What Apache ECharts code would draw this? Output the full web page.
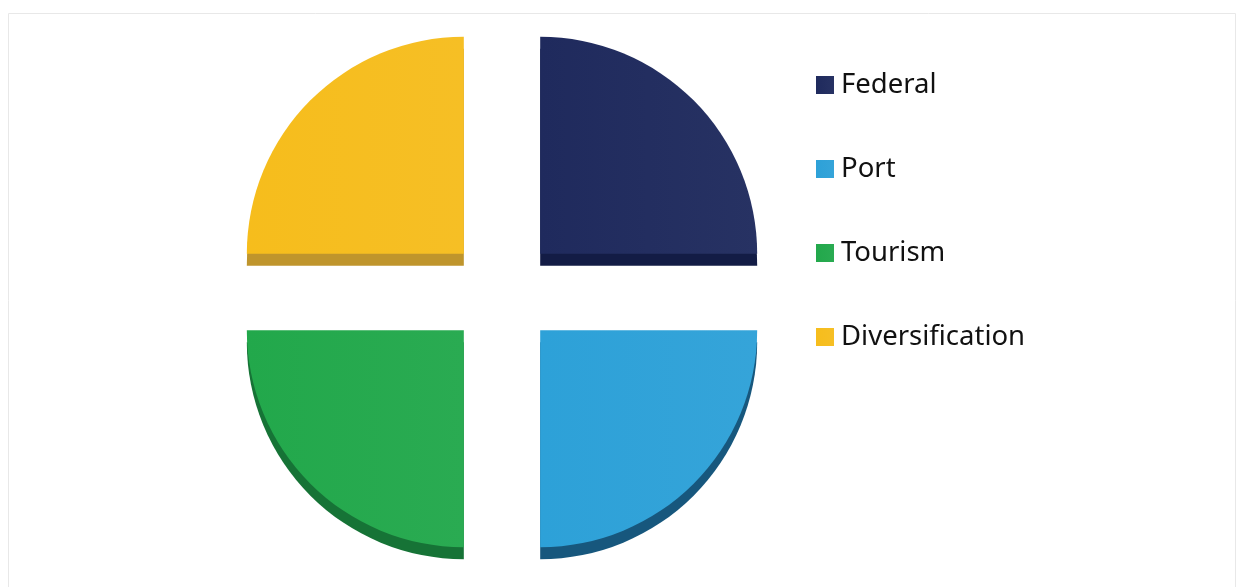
<!DOCTYPE html>
<html>
<head>
<meta charset="utf-8">
<script src="https://cdn.jsdelivr.net/npm/echarts@6/dist/echarts.min.js"></script>
<style>html,body{margin:0;padding:0;background:#fff;}#c{width:1241px;height:587px;}</style>
</head>
<body>
<div id="c"></div>
<script>
const categories = ['Federal', 'Port', 'Tourism', 'Diversification'];
const values = [25, 25, 25, 25];
const faceColors = ['#1f2a5d', '#2da1d8', '#22a84b', '#f6bd1c'];
const sideColors = ['#131c45', '#17577d', '#167336', '#bf952c'];

const chart = echarts.init(document.getElementById('c'));
const faceData = categories.map((n, i) => ({
  name: n, value: values[i], selected: true,
  itemStyle: { color: new echarts.graphic.LinearGradient(0, 0, 1, 0, [
    { offset: 0, color: faceColors[i] },
    { offset: 1, color: echarts.color.lift(faceColors[i], 0.04) }
  ]) }
}));
const sideData = categories.map((n, i) => ({
  name: n, value: values[i], selected: true,
  itemStyle: { color: sideColors[i] }
}));
const common = {
  type: 'pie', radius: [0, 217], startAngle: 90, clockwise: true,
  selectedMode: 'multiple', selectedOffset: 54,
  label: { show: false }, labelLine: { show: false },
  emphasis: { disabled: true }, animation: false
};
chart.setOption({
  backgroundColor: '#ffffff',
  graphic: [{
    type: 'rect', shape: { x: 8.5, y: 13.5, width: 1227, height: 580 },
    style: { fill: 'none', stroke: '#e8e8e8', lineWidth: 1 }, z: -10
  }],
  legend: {
    orient: 'vertical', left: 811, top: 65,
    icon: 'rect', itemWidth: 18, itemHeight: 18, itemGap: 54,
    data: categories,
    textStyle: { fontFamily: 'Noto Sans', fontSize: 27.5, color: '#111', lineHeight: 30, padding: [0, 0, 0, 2] }
  },
  series: [
    Object.assign({}, common, { name: 'face', center: [502, 292], data: faceData, z: 3 }),
    Object.assign({}, common, { name: 'side', center: [502, 304], data: sideData, z: 2, silent: true })
  ]
});
</script>
</body>
</html>
